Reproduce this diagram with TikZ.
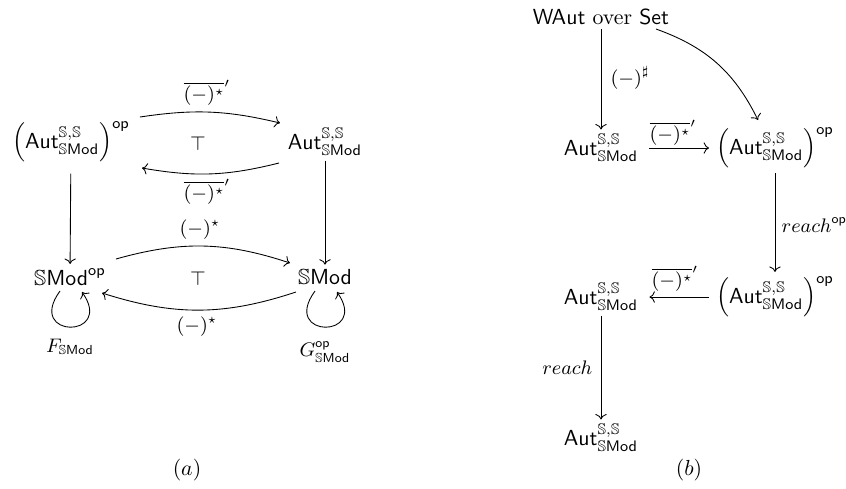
\documentclass[tikz,border=0pt]{standalone}
\usepackage{amsmath,amssymb}
\usetikzlibrary{arrows.meta,calc}
\newcommand{\AutS}{\mathsf{Aut}^{\mathbb{S},\mathbb{S}}_{\mathbb{S}\mathsf{Mod}}}
\newcommand{\AutSop}{\left(\AutS\right)^{\mathsf{op}}}
\newcommand{\dstar}{\overline{(-)^{\star}}'}
\tikzset{
  obj/.style={inner sep=2pt},
  lbl/.style={inner sep=1pt, font=\small},
  arr/.style={-{Computer Modern Rightarrow}, line width=0.4pt},
}
\begin{document}
\begin{tikzpicture}[x=0.4587pt,y=0.4587pt]
\useasboundingbox (0,0) rectangle (846,-488);
% ---------- (a)
\node[obj] (A1) at (71,-142) {$\AutSop$};
\node[obj] (A2) at (325,-142) {$\AutS$};
\node[obj] (B1) at (70,-277) {$\mathbb{S}\mathsf{Mod}^{\mathsf{op}}$};
\node[obj] (B2) at (325,-277) {$\mathbb{S}\mathsf{Mod}$};
\draw[arr] ($(A1)+(69,25)$) to[bend left=11] ($(A2)+(-45,19)$);
\draw[arr] ($(A2)+(-46,-21)$) to[bend left=12] ($(A1)+(71,-26)$);
\draw[arr, shorten <=3pt] (A1) -- (B1);
\draw[arr] (A2) -- (B2);
\draw[arr] ($(B1)+(46,18)$) to[bend left=17] ($(B2)+(-35,14)$);
\draw[arr] ($(B2)+(-29,-15)$) to[bend left=18] ($(B1)+(32,-16)$);
\draw[arr] ($(B1)+(-10,-14)$) .. controls ($(B1)+(-45,-62)$) and ($(B1)+(45,-62)$) .. ($(B1)+(12,-15)$);
\draw[arr] ($(B2)+(-10,-14)$) .. controls ($(B2)+(-45,-62)$) and ($(B2)+(45,-62)$) .. ($(B2)+(12,-15)$);
\node[lbl] (l1) at (207,-93) {$\dstar$};
\node[lbl] (t1) at (198,-144) {$\top$};
\node[lbl] (l2) at (207,-192) {$\dstar$};
\node[lbl] (l3) at (200,-230) {$(-)^{\star}$};
\node[lbl] (t2) at (198,-279) {$\top$};
\node[lbl] (l4) at (197,-327) {$(-)^{\star}$};
\node[lbl] (lf) at (70,-347) {$F_{\mathbb{S}\mathsf{Mod}}$};
\node[lbl] (lg) at (325,-352) {$G^{\mathsf{op}}_{\mathbb{S}\mathsf{Mod}}$};
\node[lbl, font=\normalsize] (capa) at (187,-470) {$(a)$};
% ---------- (b)
\node[obj] (W) at (601,-17) {$\mathsf{WAut}\text{ over }\mathsf{Set}$};
\node[obj] (C1) at (601,-148) {$\AutS$};
\node[obj] (C2) at (775,-148) {$\AutSop$};
\node[obj] (D2) at (775,-297) {$\AutSop$};
\node[obj] (D1) at (601,-297) {$\AutS$};
\node[obj] (E1) at (601,-438) {$\AutS$};
\draw[arr] (W) -- (C1);
\draw[arr] ($(W)+(55,-12)$) to[bend left=22] ($(C2)+(-17,28)$);
\draw[arr, shorten <=3pt, shorten >=1pt] (C1) -- (C2);
\draw[arr] (C2) -- (D2);
\draw[arr, shorten <=1pt, shorten >=3pt] (D2) -- (D1);
\draw[arr] (D1) -- (E1);
\node[lbl, anchor=west] (ls) at (608,-78) {$(-)^{\sharp}$};
\node[lbl] (l5) at (673,-133) {$\dstar$};
\node[lbl, anchor=west] (lro) at (779,-225) {$reach^{\mathsf{op}}$};
\node[lbl] (l6) at (675,-279) {$\dstar$};
\node[lbl, anchor=east] (lr) at (595,-368) {$reach$};
\node[lbl, font=\normalsize] (capb) at (689,-470) {$(b)$};
\end{tikzpicture}
\end{document}
